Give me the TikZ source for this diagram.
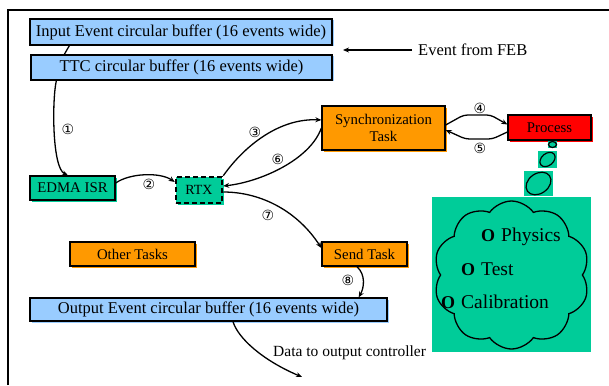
\documentclass[tikz,border=0pt]{standalone}
\usepackage{fontspec}
\setmainfont{Liberation Serif}
\newfontfamily\circfont{DejaVu Sans}
\usetikzlibrary{arrows.meta,shapes.symbols,shapes.geometric,shadows}
\definecolor{bufblue}{RGB}{153,204,255}
\definecolor{taskorange}{RGB}{255,153,0}
\definecolor{rtxgreen}{RGB}{0,204,153}
\definecolor{procred}{RGB}{255,0,0}
\newcommand\ring{{\fontsize{18}{18}\selectfont\bfseries O}\hspace{6pt}}

\begin{document}
\begin{tikzpicture}[
    x=1pt, y=-1pt,
    buf/.style={draw, line width=1.3pt, fill=bufblue, general shadow={fill=bufblue, shadow xshift=1.5pt, shadow yshift=-1.5pt}, inner sep=0pt, font=\fontsize{16.5}{19}\selectfont},
    task/.style={draw, line width=1.3pt, fill=#1, general shadow={fill=#1, shadow xshift=1.5pt, shadow yshift=-1.5pt}, inner sep=0pt, align=center, font=\fontsize{14.8}{17}\selectfont},
    wire/.style={line width=1.3pt},
    arrow/.style={wire, -{Stealth[length=6pt, width=5pt]}},
    num/.style={font=\circfont\fontsize{14}{14}\selectfont, inner sep=0pt},
    lbl/.style={anchor=west, inner sep=0pt},
    bubble/.style={draw, ellipse, line width=1.2pt, fill=rtxgreen, inner sep=0pt},
    item/.style={anchor=west, inner sep=0pt, font=\fontsize{19.5}{22}\selectfont}
]
\useasboundingbox (0,0) rectangle (609,385);

% frame
\draw[line width=1.5pt] (8,385) -- (8,10) -- (609,10);

% buffers
\node[buf, minimum width=302pt, minimum height=26pt] (inbuf) at (181,32) {Input Event circular buffer (16 events wide)};
\node[buf, minimum width=301pt, minimum height=25pt] (ttcbuf) at (181.5,67.5) {TTC circular buffer (16 events wide)};
\node[buf, minimum width=357pt, minimum height=23pt] (outbuf) at (208.5,309.5) {Output Event circular buffer (16 events wide)};

% tasks
\node[task=rtxgreen, minimum width=85pt, minimum height=24pt] (edma) at (72.5,188) {EDMA ISR};
\node[task=rtxgreen, minimum width=46pt, minimum height=26pt, line width=2.5pt, dash pattern=on 5pt off 3pt, font=\fontsize{14}{16}\selectfont] (rtx) at (199,190) {RTX};
\node[task=taskorange, minimum width=123pt, minimum height=44pt] (sync) at (383.5,128) {Synchronization\\Task};
\node[task=procred, minimum width=83pt, minimum height=25pt] (process) at (549.5,127.5) {Process};
\node[task=taskorange, minimum width=125pt, minimum height=24pt] (other) at (132.5,254) {Other Tasks};
\node[task=taskorange, minimum width=85pt, minimum height=24pt] (send) at (364.5,254) {Send Task};

% outside world
\node[lbl, font=\fontsize{16.5}{19}\selectfont] (feb) at (418,50) {Event from FEB};
\coordinate (febtip) at (343,50);
\draw[arrow] ([xshift=-6pt]feb.west) -- (febtip);
\node[lbl, font=\fontsize{15.5}{18}\selectfont] (data) at (273,353) {Data to output controller};
\coordinate (dataend) at (302,377);
\draw[arrow] ([xshift=24.5pt]outbuf.south) .. controls (238,338) and (262,360) .. (dataend);

% thought cloud
\node[fill=rtxgreen, minimum width=9pt, minimum height=7pt, inner sep=0pt] (b1bg) at (552.5,144.5) {};
\node[bubble, minimum width=8pt, minimum height=6pt] (b1) at (552.5,144.5) {};
\node[fill=rtxgreen, minimum width=19pt, minimum height=17pt, inner sep=0pt] (b2bg) at (547.5,159.5) {};
\node[bubble, minimum width=17pt, minimum height=12pt, rotate=40] (b2) at (547.5,159.5) {};
\node[fill=rtxgreen, minimum width=29pt, minimum height=25pt, inner sep=0pt] (b3bg) at (538.5,183.5) {};
\node[bubble, minimum width=27pt, minimum height=20pt, rotate=35] (b3) at (538.5,183.5) {};
\node[fill=rtxgreen, minimum width=159pt, minimum height=155pt, inner sep=0pt] (cloudbg) at (511.5,274.5) {};
\node[cloud, cloud puffs=10, cloud puff arc=110, aspect=1.05, draw, line width=1.3pt, fill=rtxgreen, minimum width=156pt, minimum height=148pt, inner sep=0pt] (thought) at (511.5,275) {};
\node[item] (phys) at (481,237) {\ring Physics};
\node[item] (test) at (461,269) {\ring Test};
\node[item] (calib) at (441,302) {\ring Calibration};

% connectors
\draw[wire] ([xshift=40pt]inbuf.south west) -- ([xshift=34pt]ttcbuf.north west);
\draw[arrow] ([xshift=26pt]ttcbuf.south west) .. controls (52,100) and (52,168) .. ([xshift=-4.5pt]edma.north);
\draw[arrow] ([yshift=5pt]edma.east) .. controls (130,173) and (160,172) .. ([yshift=8pt]rtx.west);
\draw[arrow] (rtx.north east) .. controls (245,145) and (280,118) .. ([yshift=8pt]sync.west);
\draw[arrow] (sync.west) .. controls (310,160) and (260,182) .. ([yshift=4pt]rtx.east);
\draw[arrow, rounded corners=4pt] ([yshift=3pt]sync.east) -- ++(18,-10) -- ++(27,0) -- ([yshift=3pt]process.west);
\draw[arrow, rounded corners=4pt] ([yshift=-4.5pt]process.west) -- ++(-15,7) -- ++(-27,0) -- ([yshift=-2pt]sync.east);
\draw[arrow] ([yshift=-2pt]rtx.east) .. controls (262,192) and (298,212) .. ([yshift=6pt]send.west);
\draw[arrow] ([xshift=-7.5pt]send.south) .. controls (366,275) and (364,288) .. ([xshift=-29pt]outbuf.north east);

% step numbers
\node[num] (n1) at (68,129) {①};
\node[num] (n2) at (149,184) {②};
\node[num] (n3) at (255,132) {③};
\node[num] (n4) at (480,108) {④};
\node[num] (n5) at (480,148) {⑤};
\node[num] (n6) at (278,159) {⑥};
\node[num] (n7) at (268,215) {⑦};
\node[num] (n8) at (348,280) {⑧};
\end{tikzpicture}
\end{document}
